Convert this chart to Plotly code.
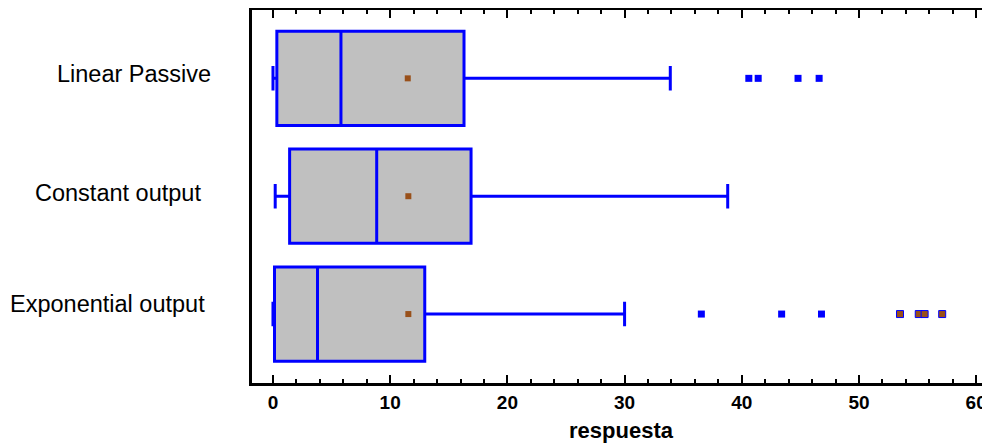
import plotly.graph_objects as go

categories = ["Exponential output", "Constant output", "Linear Passive"]
positions = [0, 1, 2]
q1 = [0.13, 1.42, 0.33]
medians = [3.8, 8.85, 5.8]
q3 = [12.95, 16.9, 16.3]
lower_fence = [0.0, 0.19, 0.0]
upper_fence = [30.0, 38.8, 33.9]
means = [11.55, 11.55, 11.5]

# near outliers (blue) and far outliers (brown) per category
near_out = [[36.55, 43.4, 46.8], [], [40.6, 41.4, 44.8, 46.6]]
far_out = [[53.5, 55.1, 55.6, 57.1], [], []]

label_right_px = [207, 203, 213]
label_yshift = [10, 3, 4]

BLUE = "#0000FF"
GRAY = "#C0C0C0"
BROWN = "#99501A"

# page body has an 8px default margin; size the figure so it fits the window exactly
OFF = 8
W, H = 990 - OFF, 445 - OFF
L, R, T, B = 252 - OFF, 0, 10 - OFF, 445 - 383
pw = W - L - R
PX_PER_UNIT = 11.72
x_lo = -1.79
x_hi = x_lo + pw / PX_PER_UNIT

fig = go.Figure()

for i, cat in enumerate(categories):
    fig.add_trace(go.Box(
        orientation="h",
        y=[positions[i]],
        q1=[q1[i]], median=[medians[i]], q3=[q3[i]],
        lowerfence=[lower_fence[i]], upperfence=[upper_fence[i]],
        width=0.8, whiskerwidth=0.26,
        fillcolor=GRAY,
        line=dict(color=BLUE, width=3),
        boxpoints=False, hoverinfo="skip", name=cat, showlegend=False,
    ))
    if near_out[i]:
        fig.add_trace(go.Scatter(
            x=near_out[i], y=[positions[i]] * len(near_out[i]), mode="markers",
            marker=dict(symbol="square", size=7, color=BLUE, line=dict(width=0)),
            showlegend=False, hoverinfo="skip"))
    if far_out[i]:
        fig.add_trace(go.Scatter(
            x=far_out[i], y=[positions[i]] * len(far_out[i]), mode="markers",
            marker=dict(symbol="square", size=7, color=BROWN, line=dict(color=BLUE, width=1)),
            showlegend=False, hoverinfo="skip"))

fig.add_trace(go.Scatter(
    x=means, y=positions, mode="markers",
    marker=dict(symbol="square", size=6, color=BROWN, line=dict(width=0)),
    showlegend=False, hoverinfo="skip"))

for i, cat in enumerate(categories):
    fig.add_annotation(
        x=(label_right_px[i] - OFF - L) / pw, xref="paper", xanchor="right",
        y=positions[i], yref="y", yanchor="middle", yshift=label_yshift[i],
        text=cat, showarrow=False,
        font=dict(family="Liberation Sans, Arial, sans-serif", size=23.5, color="black"))

fig.update_layout(
    width=W, height=H,
    margin=dict(l=L, r=R, t=T, b=B, pad=0),
    plot_bgcolor="white", paper_bgcolor="white",
    font=dict(family="Liberation Sans, Arial, sans-serif", color="black"),
    xaxis=dict(
        range=[x_lo, x_hi], tickvals=[0, 10, 20, 30, 40, 50, 60],
        ticktext=["<b>0</b>", "<b>10</b>", "<b>20</b>", "<b>30</b>", "<b>40</b>", "<b>50</b>", "<b>60</b>"],
        ticks="inside", ticklen=8, tickwidth=2, tickcolor="black",
        minor=dict(dtick=2, tick0=0, ticks="inside", ticklen=4, tickwidth=2, tickcolor="black", showgrid=False),
        showline=True, linecolor="black", linewidth=3, mirror="allticks",
        showgrid=False, zeroline=False,
        tickfont=dict(size=19, color="black"),
        title=dict(text="<b>respuesta</b>", font=dict(size=22, color="black"), standoff=11),
    ),
    yaxis=dict(
        range=[-0.585, 2.58], showticklabels=False, ticks="",
        showline=True, linecolor="black", linewidth=3, mirror=False,
        showgrid=False, zeroline=False,
    ),
)

fig.write_html("out.html")
